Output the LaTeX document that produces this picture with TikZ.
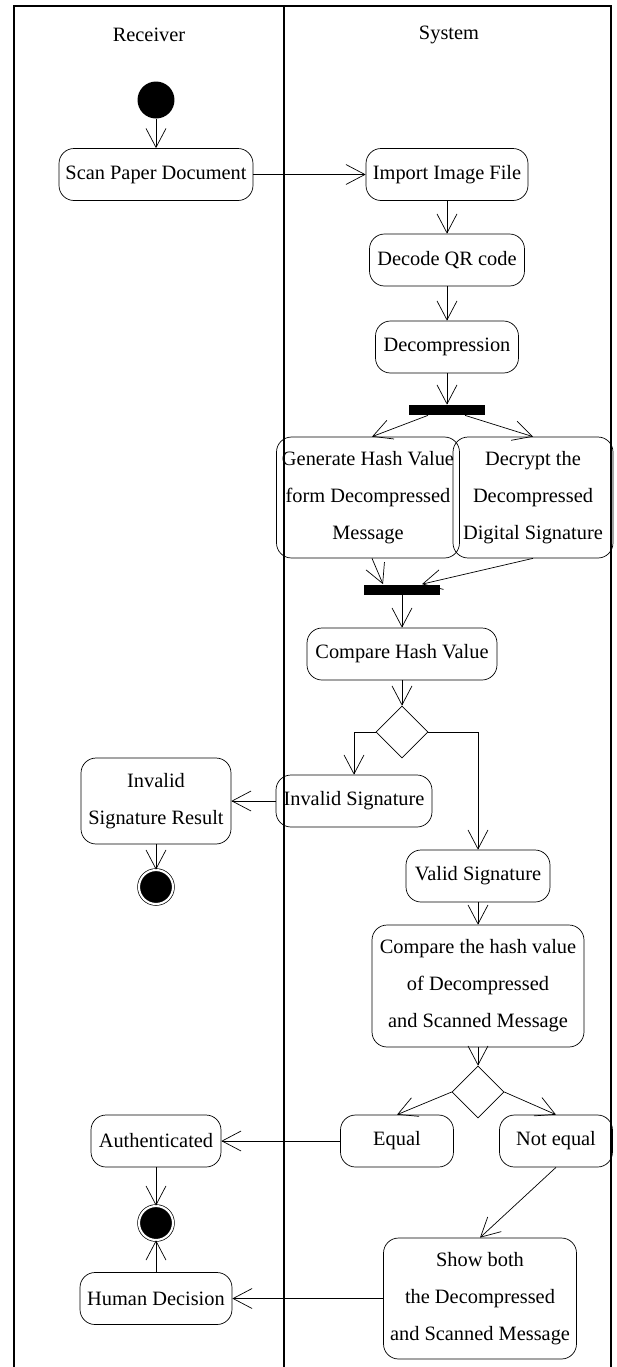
\documentclass[tikz,border=0pt]{standalone}
\usepackage{fontspec}
\setmainfont{Liberation Serif}
\usepackage{tikz}
\usetikzlibrary{positioning}
\usetikzlibrary{calc}
\usetikzlibrary{arrows.meta,shapes}

\begin{document}
\begin{tikzpicture}[x=0.02cm,y=-0.02cm,font=\fontsize{11.6}{21}\selectfont,
	activity/.style={draw,rounded corners=0.3cm,align=center,inner sep=2pt,minimum height=1.04cm},
	bar/.style={fill=black,inner sep=0pt,minimum width=1.52cm,minimum height=0.2cm},
	decision/.style={draw,diamond,inner sep=0pt,minimum size=1.04cm},
	startnode/.style={circle,fill=black,inner sep=0pt,minimum size=0.74cm},
	endnode/.style={circle,draw,fill=black,double,double distance=1.2pt,inner sep=0pt,minimum size=0.68cm},
	flow/.style={-{Straight Barb[length=0.38cm,width=0.4cm]}},
	lane/.style={line width=0.8pt}]
\useasboundingbox (0,0) rectangle (617,1367);

%tory
\draw[lane] (14,1367) -- (14,6) -- (611,6) -- (611,1367);
\draw[lane] (284,6) -- (284,1367);
\node (rcv) at (149,35) {Receiver};
\node (sys) at (449,35) {System};

%czynnosci
\node[startnode] (init) at (156,100) {};
\node[activity,minimum width=3.88cm] (scan) at (156,174.5) {Scan Paper Document};
\node[activity,minimum width=3.24cm] (import) at (447,174.5) {Import Image File};
\node[activity,minimum width=3.1cm] (decode) at (447,260) {Decode QR code};
\node[activity,minimum width=2.86cm] (decomp) at (447,347) {Decompression};
\node[bar] (fork) at (447,410) {};
\node[activity,minimum width=3.66cm,minimum height=2.42cm] (gen) at (368,497.5) {Generate Hash Value\\form Decompressed\\Message};
\node[activity,minimum width=3.2cm,minimum height=2.42cm] (decrypt) at (533,497.5) {Decrypt the\\Decompressed\\Digital Signature};
\node[bar] (join) at (402,589.5) {};
\node[activity,minimum width=3.8cm] (cmphash) at (402,654) {Compare Hash Value};
\node[decision] (dec1) at (402,732) {};
\node[activity,minimum width=3.12cm] (invsig) at (354,801) {Invalid Signature};
\node[activity,minimum width=3.0cm,minimum height=1.72cm] (invres) at (156,801) {Invalid\\Signature Result};
\node[endnode] (end1) at (156,887) {};
\node[activity,minimum width=2.88cm] (validsig) at (478,876) {Valid Signature};
\node[activity,minimum width=4.24cm,minimum height=2.44cm] (cmpval) at (478,986) {Compare the hash value\\of Decompressed\\and Scanned Message};
\node[decision] (dec2) at (478,1092) {};
\node[activity,minimum width=2.26cm] (equal) at (397,1141) {Equal};
\node[activity,minimum width=2.26cm] (notequal) at (556,1141) {Not equal};
\node[activity,minimum width=2.6cm] (auth) at (156,1141) {Authenticated};
\node[endnode] (end2) at (156,1223) {};
\node[activity,minimum width=3.04cm] (human) at (156,1298.5) {Human Decision};
\node[activity,minimum width=3.86cm,minimum height=2.42cm] (show) at (480,1298.5) {Show both\\the Decompressed\\and Scanned Message};

%przeplyw
\draw[flow] (init) -- (scan);
\draw[flow] (scan) -- (import);
\draw[flow] (import) -- (decode);
\draw[flow] (decode) -- (decomp);
\draw[flow] (decomp) -- (fork);
\draw[flow] ([xshift=-0.38cm]fork.south) -- ([xshift=0.08cm]gen.north);
\draw[flow] ([xshift=0.36cm]fork.south) -- (decrypt.north);
\draw[flow] ([xshift=0.08cm]gen.south) -- ([xshift=-0.38cm]join.north);
\draw[flow] (decrypt.south) -- ([xshift=0.4cm]join.north);
\draw[flow] (join) -- (cmphash);
\draw[flow] (cmphash) -- (dec1);
\draw[flow] (dec1.west) -| (invsig.north);
\draw[flow] (dec1.east) -| (validsig.north);
\draw[flow] (invsig) -- (invres);
\draw[flow] (invres) -- (end1);
\draw[flow] (validsig) -- (cmpval);
\draw[flow] (cmpval) -- (dec2);
\draw[flow] (dec2.west) -- (equal.north);
\draw[flow] (dec2.east) -- (notequal.north);
\draw[flow] (equal) -- (auth);
\draw[flow] (auth) -- (end2);
\draw[flow] (human) -- (end2);
\draw[flow] (notequal.south) -- (show.north);
\draw[flow] (show) -- (human);

%end
\end{tikzpicture}
\end{document}
